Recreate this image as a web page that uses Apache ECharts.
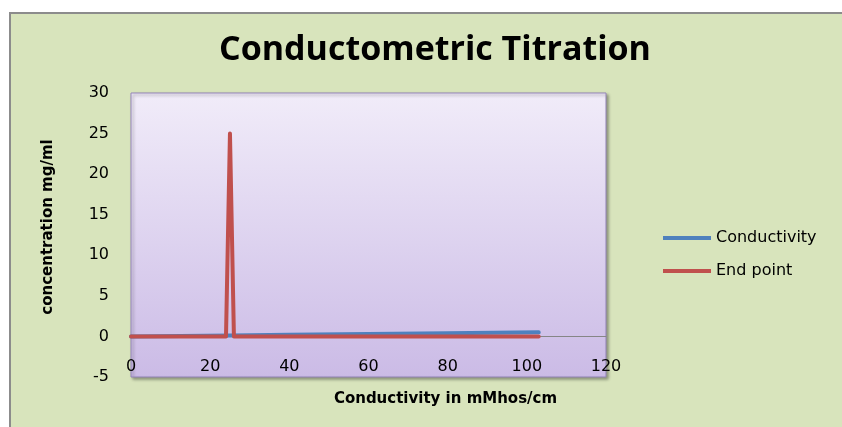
<!DOCTYPE html>
<html>
<head>
<meta charset="utf-8">
<script src="https://cdn.jsdelivr.net/npm/echarts@6/dist/echarts.min.js"></script>
<style>
  html, body { margin: 0; padding: 0; background: #fff; }
  #main { width: 842px; height: 427px; }
</style>
</head>
<body>
<div id="main"></div>
<script>
const conductivityX = [0, 25, 40, 60, 80, 103];
const conductivityY = [0, 0.1, 0.2, 0.3, 0.4, 0.5];
const endPointX = [0, 24, 25, 26, 103];
const endPointY = [0, 0, 25, 0, 0];

const pair = (xs, ys) => xs.map((x, i) => [x, ys[i]]);

let chart = echarts.init(document.getElementById('main'));
chart.setOption({
  backgroundColor: '#ffffff',
  animation: false,
  graphic: [{
    type: 'rect',
    z: -10,
    shape: { x: 10, y: 13, width: 860, height: 440 },
    style: { fill: '#d8e4bc', stroke: '#8c8c8c', lineWidth: 2 }
  }],
  title: {
    text: 'Conductometric Titration',
    left: 430,
    textAlign: 'center',
    top: 28,
    textStyle: { fontFamily: 'Open Sans', fontWeight: 'bold', fontSize: 34, color: '#000' }
  },
  legend: {
    orient: 'vertical',
    left: 658,
    top: 225,
    itemWidth: 48,
    itemHeight: 4,
    itemGap: 17,
    icon: 'rect',
    textStyle: { fontFamily: 'DejaVu Sans', fontSize: 16, color: '#000' },
    data: ['Conductivity', 'End point']
  },
  grid: {
    left: 131, top: 93, right: 236, bottom: 50,
    outerBoundsMode: 'none',
    containLabel: false,
    show: true,
    borderColor: '#9384b8',
    borderWidth: 1,
    shadowColor: 'rgba(0,0,0,0.35)',
    shadowBlur: 3,
    shadowOffsetX: 2,
    shadowOffsetY: 2,
    backgroundColor: new echarts.graphic.LinearGradient(0, 0, 0, 1, [
      { offset: 0, color: '#f1ecf9' },
      { offset: 1, color: '#cbbbe6' }
    ])
  },
  xAxis: {
    type: 'value',
    min: 0, max: 120, interval: 20,
    name: 'Conductivity in mMhos/cm',
    nameLocation: 'middle',
    nameGap: 15,
    nameTextStyle: { fontFamily: 'DejaVu Sans', fontWeight: 'bold', fontSize: 15, color: '#000', padding: [0, 0, 0, 154] },
    axisLine: { onZero: true, lineStyle: { color: '#868686', width: 1 } },
    axisTick: { show: false },
    splitLine: { show: false },
    axisLabel: { margin: -18, fontFamily: 'DejaVu Sans', fontSize: 16, color: '#000' }
  },
  yAxis: {
    type: 'value',
    min: -5, max: 30, interval: 5,
    name: 'concentration mg/ml',
    nameLocation: 'middle',
    nameGap: 75,
    nameTextStyle: { fontFamily: 'DejaVu Sans', fontWeight: 'bold', fontSize: 15, color: '#000', padding: [0, 0, 0, 16] },
    axisLine: { show: false },
    axisTick: { show: false },
    splitLine: { show: false },
    axisLabel: { margin: 22, fontFamily: 'DejaVu Sans', fontSize: 16, color: '#000' }
  },
  series: [{
    name: 'Conductivity',
    type: 'line',
    showSymbol: false,
    color: '#4f81bd',
    lineStyle: { width: 4, color: '#4f81bd', cap: 'round', join: 'round' },
    data: pair(conductivityX, conductivityY)
  }, {
    name: 'End point',
    type: 'line',
    showSymbol: false,
    color: '#c0504d',
    lineStyle: { width: 4, color: '#c0504d', cap: 'round', join: 'round' },
    data: pair(endPointX, endPointY)
  }]
});
</script>
</body>
</html>
